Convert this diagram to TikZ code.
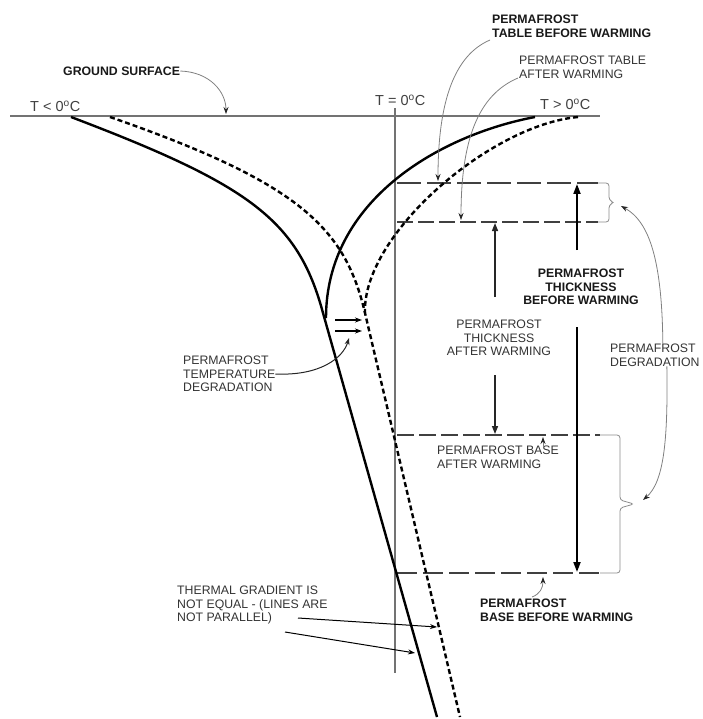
\documentclass[tikz,border=0pt]{standalone}
\usepackage{fontspec}
\setmainfont{Liberation Sans}
\usetikzlibrary{arrows.meta}
\begin{document}
\begin{tikzpicture}[x=1pt,y=-1pt,
  lbl/.style={font=\fontsize{12.3}{13.6}\selectfont, text=black!80, align=left, inner sep=0pt},
  blbl/.style={lbl, font=\fontsize{12.3}{13.6}\selectfont\bfseries, text=black!90},
  clbl/.style={lbl, align=center},
  cblbl/.style={blbl, align=center},
  tlbl/.style={font=\fontsize{14.5}{16}\selectfont, text=black!75, inner sep=0pt},
  gline/.style={draw=black!55, line width=1.3pt},
  solcurve/.style={draw=black, line width=2.4pt},
  dashcurve/.style={draw=black, line width=2.4pt, dash pattern=on 5pt off 3pt},
  hdash/.style={draw=black!75, line width=2pt, dash pattern=on 18pt off 6pt},
  brc/.style={draw=black!45, line width=0.8pt, rounded corners=3pt},
  conn/.style={draw=black!50, line width=0.8pt, -{Stealth[length=7pt,width=5pt,color=black!85]}},
  medarr/.style={draw=black, line width=1.3pt, -{Stealth[length=7pt,width=5pt]}},
  bigarr/.style={draw=black, line width=1.9pt, -{Triangle[length=10pt,width=7pt]}},
  midarr/.style={draw=black!85, line width=1.4pt, -{Triangle[length=8pt,width=6pt]}}
]
\useasboundingbox (0,0) rectangle (702,719);

% ground and zero line
\coordinate (gL) at (10,116);
\coordinate (gR) at (600,116);
\draw[gline] (gL) -- (gR);
\coordinate (zT) at (395,108);
\coordinate (zB) at (395,673);
\draw[gline] (zT) -- (zB);

% temperature labels
\node[tlbl, anchor=west] (tlt) at (30,106) {T < 0\textsuperscript{o}C};
\node[tlbl, anchor=west] (teq) at (375,100) {T = 0\textsuperscript{o}C};
\node[tlbl, anchor=west] (tgt) at (540,104) {T > 0\textsuperscript{o}C};

% horizontal dashed lines
\draw[hdash, dash pattern=on 24pt off 6pt] (397,183) -- (598,183);
\draw[hdash, dash pattern=on 16pt off 5pt] (397,222) -- (598,222);
\draw[hdash, dash pattern=on 17pt off 5pt] (397,435) -- (600,435);
\draw[hdash, dash pattern=on 20pt off 6pt] (397,573) -- (600,573);

% braces
\draw[brc] (598,183) -- (609,183) -- (609,200) -- (614,202.5) -- (609,205) -- (609,222) -- (598,222);
\draw[brc] (600,435) -- (620,435) -- (620,500) -- (634,504) -- (620,508) -- (620,573) -- (600,573);

% temperature curves
\draw[solcurve] (71,117) .. controls (250,185) and (298,220) .. (323,313) -- (437,717);
\draw[dashcurve] (110,117) .. controls (300,183) and (345,228) .. (365,313) -- (460,717);
\draw[solcurve] (535,117) .. controls (440,135) and (326,200) .. (326,318);
\draw[dashcurve] (578,117) .. controls (490,125) and (362,235) .. (365,313);

% labels
\node[blbl, anchor=west] (gs) at (63,71) {GROUND SURFACE};
\node[blbl, anchor=west] (ptb) at (492,26.5) {PERMAFROST\\TABLE BEFORE WARMING};
\node[lbl, anchor=west] (pta) at (519,67) {PERMAFROST TABLE\\AFTER WARMING};
\node[cblbl] (thb) at (581,287) {PERMAFROST\\THICKNESS\\BEFORE WARMING};
\node[clbl] (tha) at (499,338) {PERMAFROST\\THICKNESS\\AFTER WARMING};
\node[lbl, anchor=west] (degr) at (610,355) {PERMAFROST\\DEGRADATION};
\node[lbl, anchor=west] (tdeg) at (183,374) {PERMAFROST\\TEMPERATURE\\DEGRADATION};
\node[lbl, anchor=west] (baw) at (437,457) {PERMAFROST BASE\\AFTER WARMING};
\node[blbl, anchor=west] (bbw) at (480,610) {PERMAFROST\\BASE BEFORE WARMING};
\node[lbl, anchor=west] (tg) at (177,605) {THERMAL GRADIENT IS\\NOT EQUAL - (LINES ARE\\NOT PARALLEL)};

% connectors from labels
\coordinate (gsT) at (226,114);
\draw[conn] (gs.east) .. controls (210,72) and (226,92) .. (gsT);
\coordinate (ptbS) at (490,40);
\coordinate (ptbT) at (438,181);
\draw[conn] (ptbS) .. controls (455,55) and (438,100) .. (ptbT);
\coordinate (ptaS) at (518,78);
\coordinate (ptaT) at (461,220);
\draw[conn] (ptaS) .. controls (478,95) and (461,140) .. (ptaT);
\coordinate (dgU) at (621,206);
\coordinate (dgD) at (643,500);
\draw[conn] ([xshift=8pt]degr.north) .. controls (662,262) and (650,222) .. (dgU);
\draw[conn] ([xshift=12pt]degr.south) .. controls (668,440) and (664,482) .. (dgD);
\coordinate (tdT) at (349,338);
\draw[conn, draw=black!85, line width=1pt] (tdeg.east) .. controls (320,376) and (343,358) .. (tdT);
\coordinate (bawS) at (543,447);
\coordinate (bawT) at (543,437);
\draw[conn] (bawS) -- (bawT);
\coordinate (bbwS) at (532,597);
\coordinate (bbwT) at (543,577);
\draw[conn] (bbwS) .. controls (540,594) and (543,588) .. (bbwT);

% thermal gradient arrows
\coordinate (tg1S) at (298,618);
\coordinate (tg1T) at (437,627);
\coordinate (tg2S) at (285,632);
\coordinate (tg2T) at (415,653);
\draw[medarr, line width=1pt] (tg1S) -- (tg1T);
\draw[medarr, line width=1pt] (tg2S) -- (tg2T);

% temperature degradation arrows
\coordinate (td1S) at (335,320);
\coordinate (td1T) at (362,320);
\coordinate (td2S) at (335,331);
\coordinate (td2T) at (362,331);
\draw[medarr] (td1S) -- (td1T);
\draw[medarr] (td2S) -- (td2T);

% thickness arrows
\coordinate (tbA) at (577,250);
\coordinate (tbTop) at (577,184);
\coordinate (tbB) at (577,327);
\coordinate (tbBot) at (577,572);
\draw[bigarr] (tbA) -- (tbTop);
\draw[bigarr] (tbB) -- (tbBot);
\coordinate (taA) at (495,297);
\coordinate (taTop) at (495,223);
\coordinate (taB) at (495,375);
\coordinate (taBot) at (495,434);
\draw[midarr] (taA) -- (taTop);
\draw[midarr] (taB) -- (taBot);
\end{tikzpicture}
\end{document}
